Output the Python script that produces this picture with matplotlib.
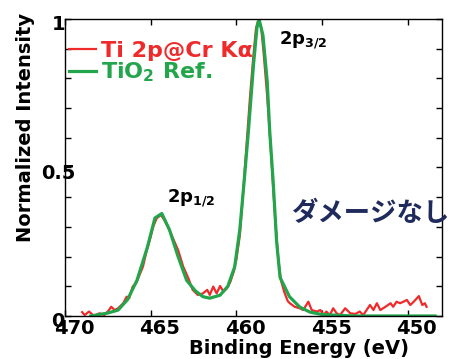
import matplotlib.pyplot as plt
import matplotlib.transforms as mtransforms
import numpy as np

# Ti 2p measured with Cr K-alpha (noisy) and TiO2 reference (smooth)
red_be = [469.0, 468.85, 468.6, 468.3, 468.0, 467.7, 467.5, 467.3, 467.1, 466.9,
          466.6, 466.4, 466.25, 466.05, 465.85, 465.65, 465.45, 465.25, 465.05, 464.85,
          464.65, 464.4, 464.2, 464.0, 463.7, 463.4, 463.1, 462.8, 462.55, 462.25,
          461.95, 461.7, 461.55, 461.35, 461.15, 460.95, 460.75, 460.55, 460.35, 460.15,
          460.0, 459.8, 459.6, 459.4, 459.2, 459.0, 458.85, 458.7, 458.55, 458.4,
          458.2, 458.0, 457.85, 457.7, 457.55, 457.4, 457.2, 457.0, 456.9, 456.6,
          456.3, 456.1, 455.8, 455.6, 455.3, 455.1, 454.9, 454.75, 454.55, 454.35,
          454.15, 453.95, 453.65, 453.35, 453.05, 452.8, 452.6, 452.4, 452.2, 452.0,
          451.8, 451.6, 451.3, 451.0, 450.85, 450.65, 450.45, 450.25, 450.05, 449.85,
          449.65, 449.35, 449.15, 449.0, 448.9]
red_int = [0.013, 0.003, 0.015, 0.0, 0.009, 0.003, 0.015, 0.031, 0.020, 0.026,
           0.043, 0.065, 0.060, 0.099, 0.110, 0.138, 0.166, 0.216, 0.256, 0.301,
           0.329, 0.340, 0.323, 0.301, 0.262, 0.222, 0.166, 0.127, 0.088, 0.071,
           0.076, 0.088, 0.071, 0.099, 0.076, 0.101, 0.082, 0.093, 0.115, 0.150,
           0.19, 0.27, 0.42, 0.58, 0.74, 0.88, 0.97, 1.0, 0.97, 0.88,
           0.74, 0.57, 0.43, 0.30, 0.19, 0.12, 0.08, 0.05, 0.044, 0.031,
           0.026, 0.020, 0.048, 0.020, 0.015, 0.020, 0.003, 0.015, 0.003, 0.026,
           0.009, 0.003, 0.026, 0.009, 0.007, 0.015, 0.003, 0.020, 0.037, 0.020,
           0.043, 0.020, 0.031, 0.043, 0.031, 0.048, 0.043, 0.048, 0.054, 0.037,
           0.048, 0.067, 0.037, 0.043, 0.031]

green_be = [468.5, 467.5, 466.9, 466.35, 465.8, 465.2, 464.75, 464.35, 463.9, 463.4,
            462.9, 462.4, 461.95, 461.55, 460.95, 460.5, 460.1, 459.8, 459.55, 459.3,
            459.0, 458.8, 458.68, 458.45, 458.2, 458.05, 457.85, 457.65, 457.45, 456.9,
            456.3, 455.7, 455.0, 454.0, 453.0, 448.4]
green_int = [0.0, 0.01, 0.02, 0.055, 0.12, 0.23, 0.33, 0.345, 0.29, 0.20,
             0.12, 0.085, 0.065, 0.06, 0.07, 0.10, 0.165, 0.29, 0.45, 0.62,
             0.845, 0.97, 1.0, 0.946, 0.79, 0.62, 0.45, 0.25, 0.13, 0.065,
             0.03, 0.013, 0.005, 0.002, 0.0, 0.0]

x_ticks = [470, 465, 460, 455, 450]
y_ticks = [0, 0.1, 0.2, 0.3, 0.4, 0.5, 0.6, 0.7, 0.8, 0.9, 1.0]
y_labels = ['0', '', '', '', '', '0.5', '', '', '', '', '1']

RED = '#ee2a2a'
GREEN = '#22a54b'
NAVY = '#1e2b5c'

fig = plt.figure(figsize=(4.56, 3.59), dpi=100)
ax = fig.add_axes([0.1425, 0.1198, 0.9693 - 0.1425, 0.9471 - 0.1198])

ax.plot(red_be, red_int, color=RED, lw=1.6, label='Ti 2p@Cr K\u03b1')
ax.plot(green_be, green_int, color=GREEN, lw=2.3, label='TiO$_\\mathbf{2}$ Ref.')

ax.set_xlim(470, 448)
ax.set_ylim(0, 1)
ax.set_xticks(x_ticks)
ax.set_yticks(y_ticks)
ax.set_yticklabels(y_labels)
ax.tick_params(direction='in', top=True, right=True, length=4, width=1,
               labelsize=14, pad=2)
for lab in ax.get_xticklabels() + ax.get_yticklabels():
    lab.set_fontweight('bold')
for lab in ax.get_xticklabels():
    lab.set_transform(lab.get_transform() +
                      mtransforms.ScaledTranslation(9 / 100, 0, fig.dpi_scale_trans))
for lab in ax.get_yticklabels():
    lab.set_horizontalalignment('center')
    lab.set_transform(lab.get_transform() +
                      mtransforms.ScaledTranslation(-4 / 100, -4 / 100, fig.dpi_scale_trans))
for sp in ax.spines.values():
    sp.set_linewidth(1)

fig.text(0.055, 0.645, 'Normalized Intensity', rotation=90, ha='center', va='center',
         fontsize=14, fontweight='bold')
fig.text(0.655, 0.028, 'Binding Energy (eV)', ha='center', va='center',
         fontsize=14, fontweight='bold')

leg = ax.legend(loc='upper left', bbox_to_anchor=(0.005, 0.935), frameon=False,
                handlelength=1.2, handletextpad=0.25, borderpad=0, borderaxespad=0.1,
                labelspacing=0.0, labelcolor='linecolor',
                prop={'weight': 'bold', 'size': 16})

ax.text(457.5, 0.93, '2p$_\\mathbf{3/2}$', fontsize=13, fontweight='bold', va='center')
ax.text(464.05, 0.395, '2p$_\\mathbf{1/2}$', fontsize=13, fontweight='bold', va='center')
ax.text(456.8, 0.345, 'ダメージなし', fontsize=19, fontweight='bold', color=NAVY,
        family=['Noto Sans CJK JP', 'DejaVu Sans'], va='center', clip_on=False)

fig.savefig('out.png', dpi=100)
